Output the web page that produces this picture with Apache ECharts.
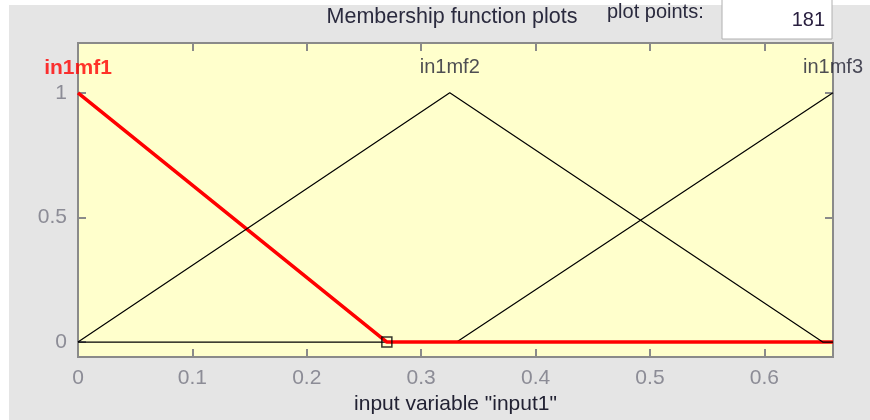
<!DOCTYPE html>
<html>
<head>
<meta charset="utf-8">
<script src="https://cdn.jsdelivr.net/npm/echarts@6/dist/echarts.min.js"></script>
<style>
html,body{margin:0;padding:0;background:#ffffff;}
#wrap{position:relative;width:870px;height:420px;background:#ffffff;overflow:hidden;}
#bg{position:absolute;left:9px;top:5px;width:861px;height:415px;background:#e5e5e5;}
#chart{position:absolute;left:0;top:0;width:870px;height:420px;}
</style>
</head>
<body>
<div id="wrap"><div id="bg"></div><div id="chart"></div></div>
<script>
// Membership functions (vertices)
var mfNames = ['in1mf1', 'in1mf2', 'in1mf3'];
var mf1Points = [[0, 1], [0.27, 0], [0.66, 0]];
var mf2Points = [[0, 0], [0.325, 1], [0.651, 0], [0.66, 0]];
var mf3Points = [[0, 0], [0.331, 0], [0.66, 1]];
var mfPeaks = [0, 0.325, 0.66];
var labelLevel = 1.1;
var selectedVertex = [[0.27, 0]];
var xTicks = [0, 0.1, 0.2, 0.3, 0.4, 0.5, 0.6];
var yTicks = [0, 0.5, 1];
var xRange = [0, 0.66];
var yRange = [-0.06, 1.2];
var titleText = 'Membership function plots';
var xAxisName = 'input variable "input1"';
var plotPointsLabel = 'plot points:';
var plotPointsValue = '181';

var FONT = '"Liberation Sans", Arial, sans-serif';
var tickColor = '#8c8c96';
var axisGray = '#8a8a8a';

var chart = echarts.init(document.getElementById('chart'), null, {renderer: 'canvas'});

var labelData = mfNames.map(function (n, i) {
  var item = {value: [mfPeaks[i], labelLevel], name: n};
  if (i === 0) {
    item.label = {color: '#ff0000', fontWeight: 'bold', fontSize: 21};
  }
  return item;
});

function axisCommon(isX, pos) {
  return {
    type: 'value',
    position: pos,
    min: isX ? xRange[0] : yRange[0],
    max: isX ? xRange[1] : yRange[1],
    axisLine: {show: false, onZero: false},
    splitLine: {show: false},
    axisTick: {show: true, inside: true, length: 8, customValues: isX ? xTicks : yTicks,
      lineStyle: {color: axisGray, width: 2}},
    axisLabel: {show: false}
  };
}

var xBottom = axisCommon(true, 'bottom');
xBottom.axisLabel = {show: true, customValues: xTicks, margin: 11, color: tickColor,
  fontSize: 21, fontFamily: FONT};
xBottom.name = xAxisName;
xBottom.nameLocation = 'middle';
xBottom.nameGap = 37;
xBottom.nameTextStyle = {color: '#222233', fontSize: 21, fontFamily: FONT};
var xTop = axisCommon(true, 'top');
var yLeft = axisCommon(false, 'left');
yLeft.axisLabel = {show: true, customValues: yTicks, margin: 11, color: tickColor,
  fontSize: 21, fontFamily: FONT};
var yRight = axisCommon(false, 'right');

chart.setOption({
  animation: false,
  backgroundColor: 'transparent',
  grid: {left: 78, top: 43, width: 755, height: 316, show: true,
    backgroundColor: '#ffffcc', borderColor: axisGray, borderWidth: 2},
  xAxis: [xBottom, xTop],
  yAxis: [yLeft, yRight],
  series: [
    {type: 'line', data: mf3Points, symbol: 'none', lineStyle: {color: '#000', width: 1.2}, z: 2},
    {type: 'line', data: mf1Points, symbol: 'none', lineStyle: {color: '#ff0000', width: 3.5}, z: 3},
    {type: 'line', data: mf2Points, symbol: 'none', lineStyle: {color: '#000', width: 1.2}, z: 4},
    {type: 'scatter', data: selectedVertex, symbol: 'rect', symbolSize: 10,
      itemStyle: {color: 'rgba(0,0,0,0)', borderColor: '#000', borderWidth: 1.5}, z: 6},
    {type: 'scatter', data: labelData, symbolSize: 0, clip: false, z: 7,
      label: {show: true, position: 'inside', formatter: '{b}', color: '#222233',
        fontSize: 20, fontFamily: FONT}}
  ],
  graphic: [
    {type: 'text', x: 452, y: 17, style: {text: titleText, fill: '#2a2a3e',
      font: '21.5px ' + FONT, align: 'center', verticalAlign: 'middle'}},
    {type: 'text', x: 607, y: 12, style: {text: plotPointsLabel, fill: '#2a2a3e',
      font: '20px ' + FONT, verticalAlign: 'middle'}},
    {type: 'rect', shape: {x: 722, y: -2, width: 110, height: 41},
      style: {fill: '#ffffff', stroke: '#b0b0b0', lineWidth: 1}},
    {type: 'text', x: 825, y: 20, style: {text: plotPointsValue, fill: '#2a2040',
      font: '20px ' + FONT, align: 'right', verticalAlign: 'middle'}}
  ]
});
</script>
</body>
</html>
